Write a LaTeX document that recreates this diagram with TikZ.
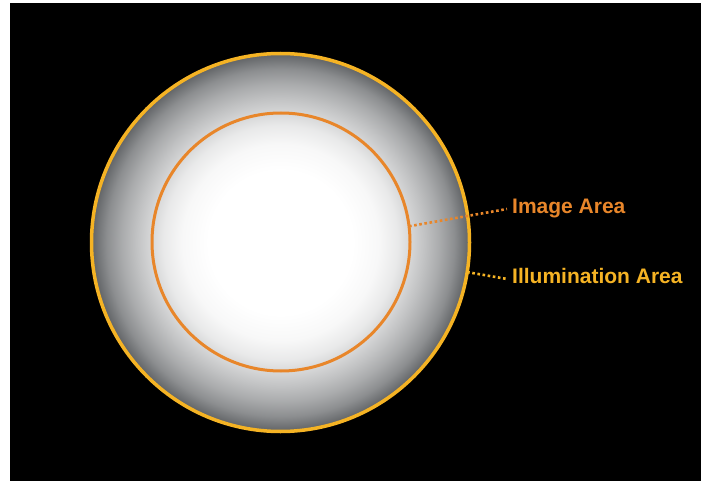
\documentclass[tikz,border=0pt]{standalone}
\usepackage{fontspec}
\setmainfont{Liberation Sans}
\definecolor{illum}{HTML}{F5B324}
\definecolor{imgor}{HTML}{E8862A}
\definecolor{lensgray}{HTML}{46494C}
\pgfdeclareradialshading{lensglow}{\pgfpoint{0bp}{0bp}}{%
  color(0bp)=(white);color(9.5bp)=(white);color(13bp)=(white!96!lensgray);
  color(15.5bp)=(white!88!lensgray);color(17bp)=(white!79!lensgray);
  color(19bp)=(white!67!lensgray);color(21bp)=(white!54!lensgray);
  color(23bp)=(white!38!lensgray);color(25bp)=(white!14!lensgray);
  color(50bp)=(white!14!lensgray)}
\tikzset{
  label text/.style={font=\bfseries\fontsize{21}{21}\selectfont, inner sep=0pt, anchor=base west},
  leader/.style={line width=2.6pt, dash pattern=on 2.6pt off 2.6pt}
}
\begin{document}
\begin{tikzpicture}[x=1pt,y=-1pt]
  \useasboundingbox (0,0) rectangle (701,481);
  \fill[white] (0,0) rectangle (701,481);
  \fill[black] (10,3) rectangle (701,481);
  \node[circle, inner sep=0pt, minimum size=378pt, outer sep=0pt, shading=lensglow,
        draw=illum, line width=3.5pt] (illumcircle) at (280.5,242.5) {};
  \node[circle, inner sep=0pt, minimum size=258pt, outer sep=0pt,
        draw=imgor, line width=3pt] (imgcircle) at (281,242) {};
  \node[label text, text=imgor] (imglabel) at (512,214) {Image Area};
  \node[label text, text=illum] (illumlabel) at (512,283) {Illumination Area};
  \draw[leader, imgor] (imgcircle.7.9) -- ([xshift=-5pt,yshift=5pt]imglabel.base west);
  \draw[leader, illum] (illumcircle.-9.3) -- ([xshift=-5pt,yshift=4pt]illumlabel.base west);
\end{tikzpicture}
\end{document}
